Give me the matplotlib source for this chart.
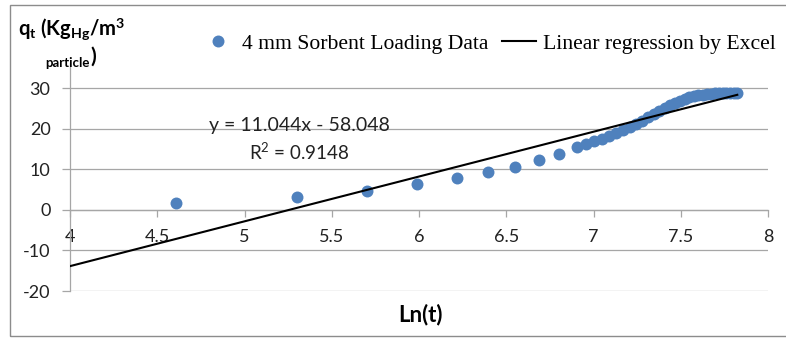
import numpy as np
import matplotlib
matplotlib.use('Agg')
import matplotlib.pyplot as plt
from matplotlib.lines import Line2D
from matplotlib.patches import Rectangle

# Ln(t) and sorbent loading q_t (Kg_Hg / m^3 particle)
ln_t = [4.605, 5.298, 5.704, 5.991, 6.215, 6.397, 6.551, 6.685, 6.802,
        6.908, 6.957, 7.003, 7.048, 7.090, 7.131, 7.170, 7.208, 7.244,
        7.279, 7.313, 7.346, 7.378, 7.409, 7.438, 7.467, 7.496, 7.523,
        7.550, 7.576, 7.601, 7.626, 7.650, 7.673, 7.696, 7.719, 7.741,
        7.762, 7.783, 7.804, 7.824]
q_t = [1.7, 3.2, 4.7, 6.4, 7.9, 9.3, 10.6, 12.3, 13.8,
       15.5, 16.2, 16.9, 17.5, 18.2, 18.9, 19.6, 20.4, 21.2,
       22.0, 22.8, 23.6, 24.4, 25.1, 25.8, 26.4, 26.9, 27.3,
       27.7, 28.0, 28.2, 28.4, 28.5, 28.6, 28.7, 28.7, 28.8,
       28.8, 28.9, 28.9, 28.9]

# Excel trendline coefficients
slope = 11.044
intercept = -58.048
r_squared = 0.9148

x_ticks = [4, 4.5, 5, 5.5, 6, 6.5, 7, 7.5, 8]
x_tick_labels = ["4", "4.5", "5", "5.5", "6", "6.5", "7", "7.5", "8"]
y_ticks = [-20, -10, 0, 10, 20, 30]

W, H = 786, 338
blue = "#4F81BD"
grid_col = "#A6A6A6"
sans = "Lato"
serif = "Liberation Serif"

plt.rcParams["axes.unicode_minus"] = False
plt.rcParams["mathtext.fontset"] = "custom"
plt.rcParams["mathtext.rm"] = "Lato"
plt.rcParams["mathtext.bf"] = "Lato:bold"
plt.rcParams["mathtext.it"] = "Lato:italic"

fig = plt.figure(figsize=(W / 100, H / 100), dpi=100)
fig.patch.set_facecolor("white")

# outer chart border
fig.add_artist(Rectangle((10 / W, 1 - 336 / H), (790 - 10) / W, (336 - 5) / H,
                         transform=fig.transFigure, fill=False,
                         edgecolor="#8C8C8C", linewidth=1.0))

ax = fig.add_axes([70 / W, 47 / H, (768 - 70) / W, (275 - 47) / H])
ax.set_xlim(4, 8)
ax.set_ylim(-20, 36.2)

for y in y_ticks:
    ax.axhline(y, color=grid_col, linewidth=0.9, zorder=1)

ax.spines["top"].set_visible(False)
ax.spines["right"].set_visible(False)
ax.spines["bottom"].set_position(("data", 0))
for s in ("left", "bottom"):
    ax.spines[s].set_color(grid_col)
    ax.spines[s].set_linewidth(0.9)

ax.set_xticks(x_ticks)
ax.set_xticklabels(x_tick_labels)
ax.set_yticks(y_ticks)
ax.tick_params(axis="x", direction="out", length=5, width=0.9, color=grid_col,
               pad=9, labelsize=13, labelcolor="#222222")
ax.tick_params(axis="y", direction="out", length=6, width=0.9, color=grid_col,
               pad=8, labelsize=13, labelcolor="#222222")
for lab in ax.get_xticklabels() + ax.get_yticklabels():
    lab.set_fontfamily(sans)

ax.plot(ln_t, q_t, "o", color=blue, markersize=8.6, markeredgewidth=0,
        zorder=3, label="4 mm Sorbent Loading Data")

fit_x = np.array([4, max(ln_t)])
ax.plot(fit_x, slope * fit_x + intercept, color="black", linewidth=1.5,
        zorder=4, label="Linear regression by Excel")

ax.text(299 / W, 1 - 125 / H, "y = 11.044x - 58.048", transform=fig.transFigure,
        ha="center", va="center", fontsize=14, family=sans, color="#222222")
ax.text(299 / W, 1 - 152 / H, f"R$^2$ = {r_squared}", transform=fig.transFigure,
        ha="center", va="center", fontsize=13.5, family=sans, color="#222222")

# legend
handles = [Line2D([], [], marker="o", linestyle="none", color=blue,
                  markersize=8.6, markeredgewidth=0),
           Line2D([], [], color="black", linewidth=1.5)]
fig.legend(handles, ["4 mm Sorbent Loading Data", "Linear regression by Excel"],
           loc="center left", bbox_to_anchor=(201 / W, 1 - 44 / H),
           ncol=2, frameon=False, prop={"family": serif, "size": 15.6},
           handlelength=1.6, handletextpad=0.3, columnspacing=0.6,
           borderpad=0, borderaxespad=0)

# axis titles
fig.text(420 / W, 1 - 315 / H, "Ln(t)", ha="center", va="center",
         fontsize=16, fontweight="bold", family=sans)
fig.text(18 / W, 1 - 35 / H, r"q$_\mathbf{t}$ (Kg$_\mathbf{Hg}$/m$^\mathbf{3}$",
         ha="left", va="baseline", fontsize=14.5, fontweight="bold", family=sans)
fig.text(45 / W, 1 - 63 / H, "particle", ha="left", va="center",
         fontsize=9.5, fontweight="bold", family=sans)
fig.text(90 / W, 1 - 57 / H, ")", ha="left", va="center",
         fontsize=15, fontweight="bold", family=sans)

fig.savefig("out.png", dpi=100, facecolor="white")
